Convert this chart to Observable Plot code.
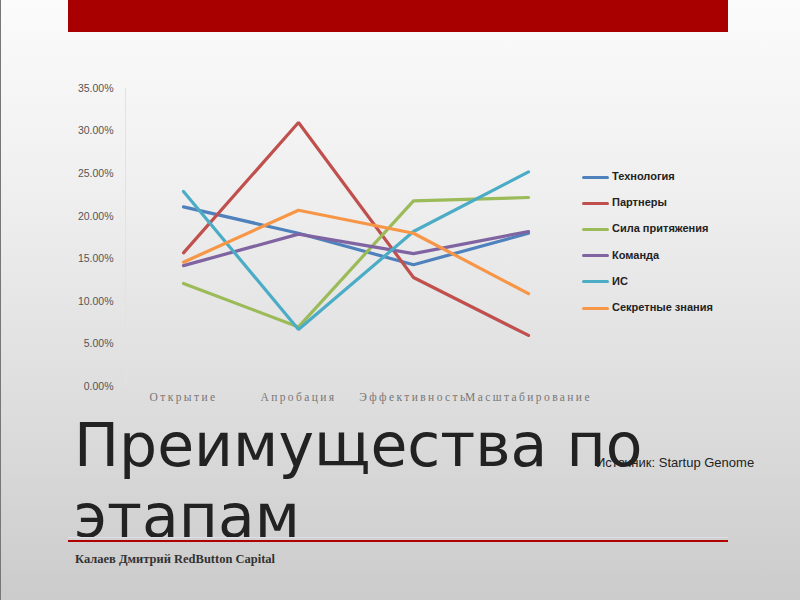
<!DOCTYPE html>
<html><head><meta charset="utf-8">
<script src="https://cdn.jsdelivr.net/npm/d3@7"></script>
<script src="https://cdn.jsdelivr.net/npm/@observablehq/plot@0.6"></script>
<style>
html,body{margin:0;padding:0;}
#page{position:relative;width:800px;height:600px;overflow:hidden;
 background:linear-gradient(to bottom,#fbfbfb 0%,#f0f0f0 30%,#dcdcdc 70%,#cbcbcb 100%);
 font-family:"Liberation Sans",Arial,sans-serif;}
#leftline{position:absolute;left:0;top:0;width:1px;height:600px;background:#777;}
#topbar{position:absolute;left:68px;top:0;width:660px;height:32px;background:#a80000;}
#chart{position:absolute;left:60px;top:78px;}
.xax text{letter-spacing:2.4px;}
#legend{position:absolute;left:582px;top:170px;font-size:11px;color:#222;font-weight:bold;}
.li{position:relative;height:26.2px;white-space:nowrap;}
.sw{display:inline-block;width:27px;height:3px;border-radius:2px;vertical-align:middle;margin-right:3px;}
#title{position:absolute;left:74px;top:410px;font-family:"DejaVu Sans",sans-serif;font-size:60px;line-height:71px;color:#222;}
#source{position:absolute;left:596px;top:455px;font-size:13px;color:#222;}
#rule{position:absolute;left:68px;top:540px;width:660px;height:2px;background:#b00000;}
#rule2{position:absolute;left:68px;top:537px;width:660px;height:1px;background:#dde0ea;}
#author{position:absolute;left:75px;top:552px;font-family:"Liberation Serif",serif;font-weight:bold;font-size:12.5px;color:#333;}
</style></head>
<body>
<div id="page">
 <div id="leftline"></div>
 <div id="topbar"></div>
 <div id="chart"></div>
 <div id="legend"></div>
 <div id="title">Преимущества по<br>этапам</div>
 <div id="source">Источник: Startup Genome</div>
 <div id="rule2"></div>
 <div id="rule"></div>
 <div id="author">Калаев Дмитрий RedButton Capital</div>
</div>
<script>
const stages = ["Открытие", "Апробация", "Эффективность", "Масштабирование"];
const seriesNames = ["Технология", "Партнеры", "Сила притяжения", "Команда", "ИС", "Секретные знания"];
const seriesColors = ["#4f81bd", "#c0504d", "#9bbb59", "#8064a2", "#4bacc6", "#f79646"];
const tech     = [0.211, 0.180, 0.143, 0.180];
const partners = [0.157, 0.310, 0.128, 0.060];
const pull     = [0.121, 0.070, 0.218, 0.222];
const team     = [0.142, 0.179, 0.156, 0.182];
const ip       = [0.229, 0.067, 0.182, 0.252];
const secret   = [0.146, 0.207, 0.180, 0.109];
const yTicks = [0, 0.05, 0.10, 0.15, 0.20, 0.25, 0.30, 0.35];

const allValues = [tech, partners, pull, team, ip, secret];
const data = [];
seriesNames.forEach((name, i) => {
  allValues[i].forEach((v, j) => data.push({series: name, stage: stages[j], value: v}));
});

const plot = Plot.plot({
  width: 500,
  height: 330,
  marginLeft: 65,
  marginTop: 10,
  marginBottom: 22,
  marginRight: 10,
  style: {background: "transparent", overflow: "visible"},
  x: {type: "point", domain: stages, range: [122, 469], padding: 0},
  y: {domain: [0, 0.35], range: [308, 10]},
  color: {domain: seriesNames, range: seriesColors},
  marks: [
    Plot.frame({anchor: "left", stroke: "#e2e2e2", strokeOpacity: 1}),
    Plot.axisY({ticks: yTicks, tickSize: 0, tickPadding: 12, label: null,
      tickFormat: d => (d * 100).toFixed(2) + "%",
      fontSize: 10.5, fill: "#555", fontFamily: "Liberation Sans, sans-serif"}),
    Plot.axisX({tickSize: 0, tickPadding: 6, label: null, className: "xax",
      fontSize: 11.5, fill: "#777", fontFamily: "Liberation Serif, serif"}),
    Plot.line(data, {x: "stage", y: "value", z: "series", stroke: "series",
      strokeWidth: 3.2, strokeLinejoin: "miter", strokeLinecap: "round"})
  ]
});
document.getElementById("chart").appendChild(plot);

const legend = document.getElementById("legend");
seriesNames.forEach((name, i) => {
  const row = document.createElement("div");
  row.className = "li";
  const sw = document.createElement("span");
  sw.className = "sw";
  sw.style.background = seriesColors[i];
  row.appendChild(sw);
  row.appendChild(document.createTextNode(name));
  legend.appendChild(row);
});
</script>
</body></html>
